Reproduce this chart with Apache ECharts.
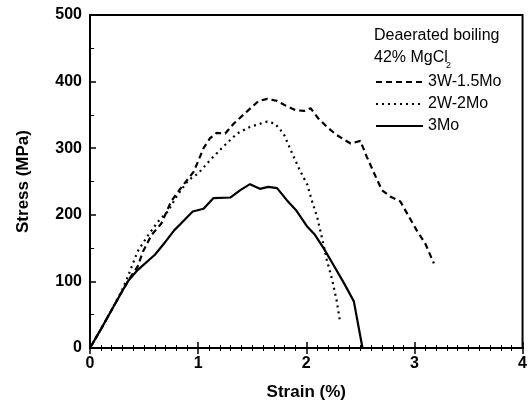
<!DOCTYPE html>
<html>
<head>
<meta charset="utf-8">
<script src="https://cdn.jsdelivr.net/npm/echarts@6/dist/echarts.min.js"></script>
<style>
  html, body { margin: 0; padding: 0; background: #fff; }
  #chart { width: 530px; height: 407px; }
</style>
</head>
<body>
<div id="chart"></div>
<script>
// 3W-1.5Mo (dashed)
var strainW15 = [0, 0.1, 0.2, 0.3, 0.38, 0.44, 0.49, 0.57, 0.66, 0.75, 0.83, 0.96, 1.05, 1.11, 1.17, 1.25, 1.33, 1.45, 1.56, 1.64, 1.73, 1.82, 1.90, 1.98, 2.04, 2.11, 2.19, 2.28, 2.41, 2.50, 2.56, 2.62, 2.70, 2.78, 2.87, 2.95, 3.02, 3.10, 3.18];
var stressW15 = [0, 28, 57, 86, 108, 122, 145, 170, 187, 220, 238, 265, 300, 315, 323, 322, 337, 355, 371, 374, 371, 363, 357, 356, 360, 345, 332, 320, 307, 311, 287, 265, 237, 227, 220, 197, 177, 157, 127];
// 2W-2Mo (dotted)
var strainW2 = [0, 0.1, 0.2, 0.3, 0.35, 0.44, 0.54, 0.63, 0.72, 0.81, 0.91, 1.0, 1.11, 1.23, 1.36, 1.48, 1.64, 1.71, 1.79, 1.87, 1.94, 2.01, 2.05, 2.10, 2.15, 2.19, 2.24, 2.28, 2.31];
var stressW2 = [0, 28, 57, 88, 107, 145, 170, 190, 205, 230, 252, 262, 282, 302, 322, 332, 340, 337, 322, 292, 267, 245, 222, 197, 162, 132, 102, 72, 42];
// 3Mo (solid)
var strainMo = [0, 0.1, 0.2, 0.3, 0.35, 0.44, 0.60, 0.70, 0.78, 0.83, 0.95, 1.05, 1.14, 1.30, 1.39, 1.48, 1.57, 1.65, 1.73, 1.82, 1.91, 2.01, 2.08, 2.16, 2.25, 2.35, 2.44, 2.52];
var stressMo = [0, 28, 57, 86, 100, 117, 140, 160, 177, 185, 205, 209, 225, 226, 237, 246, 239, 242, 240, 222, 206, 182, 170, 150, 125, 97, 70, 0];

var seriesNames = ['3W-1.5Mo', '2W-2Mo', '3Mo'];

function zip(xs, ys) {
    return xs.map(function(x, i) { return [x, ys[i]]; });
}

var font = 'Liberation Sans, Arial, sans-serif';
var chart = echarts.init(document.getElementById('chart'));

var option = {
    backgroundColor: '#fff',
    animation: false,
    grid: { left: 90, top: 15, width: 433, height: 333, show: true, borderColor: '#000', borderWidth: 2 },
    legend: {
        orient: 'vertical',
        left: 370,
        top: 69,
        itemWidth: 47,
        itemHeight: 14,
        itemGap: 6,
        itemStyle: { opacity: 0 },
        textStyle: { color: '#000', fontSize: 16, fontFamily: font },
        data: seriesNames
    },
    graphic: [
        { type: 'text', left: 374, top: 28, style: { text: 'Deaerated boiling', fontSize: 16, fontFamily: font, fill: '#000' } },
        { type: 'text', left: 374, top: 50, style: { text: '42% MgCl', fontSize: 16, fontFamily: font, fill: '#000' } },
        { type: 'text', left: 446, top: 61, style: { text: '2', fontSize: 9, fontFamily: font, fill: '#000' } }
    ],
    xAxis: [{
        type: 'value',
        min: 0, max: 4, interval: 1,
        name: 'Strain (%)',
        nameLocation: 'middle',
        nameGap: 36,
        nameTextStyle: { color: '#000', fontSize: 17, fontWeight: 'bold', fontFamily: font },
        axisLine: { lineStyle: { color: '#000', width: 2 } },
        axisTick: { inside: true, length: 6, lineStyle: { color: '#000', width: 1.5 } },
        minorTick: { show: true, splitNumber: 10, length: 3, lineStyle: { color: '#000' } },
        axisLabel: { color: '#000', fontSize: 16, fontWeight: 'bold', fontFamily: font, margin: 8 },
        splitLine: { show: false }
    }, {
        type: 'value',
        position: 'top',
        min: 0, max: 4, interval: 1,
        axisLine: { show: true, lineStyle: { color: '#000', width: 2 } },
        axisTick: { show: true, inside: true, length: 6, lineStyle: { color: '#000', width: 1.5 } },
        minorTick: { show: true, splitNumber: 10, length: 3, lineStyle: { color: '#000' } },
        axisLabel: { show: false },
        splitLine: { show: false }
    }],
    yAxis: [{
        type: 'value',
        min: 0, max: 500, interval: 100,
        name: 'Stress (MPa)',
        nameLocation: 'middle',
        nameGap: 58,
        nameTextStyle: { color: '#000', fontSize: 17, fontWeight: 'bold', fontFamily: font },
        axisLine: { show: true, lineStyle: { color: '#000', width: 2 } },
        axisTick: { show: true, inside: true, length: 6, lineStyle: { color: '#000', width: 1.5 } },
        minorTick: { show: true, splitNumber: 2, length: 4, lineStyle: { color: '#000' } },
        axisLabel: { color: '#000', fontSize: 16, fontWeight: 'bold', fontFamily: font, margin: 8 },
        splitLine: { show: false }
    }, {
        type: 'value',
        position: 'right',
        min: 0, max: 500, interval: 100,
        axisLine: { show: true, lineStyle: { color: '#000', width: 2 } },
        axisTick: { show: false },
        axisLabel: { show: false },
        splitLine: { show: false }
    }],
    series: [{
        name: seriesNames[0],
        type: 'line',
        symbol: 'none',
        data: zip(strainW15, stressW15),
        lineStyle: { color: '#000', width: 2.2, type: [6, 4] },
        itemStyle: { color: '#000' }
    }, {
        name: seriesNames[1],
        type: 'line',
        symbol: 'none',
        data: zip(strainW2, stressW2),
        lineStyle: { color: '#000', width: 2.2, type: [2, 4] },
        itemStyle: { color: '#000' }
    }, {
        name: seriesNames[2],
        type: 'line',
        symbol: 'none',
        xAxisIndex: 1,
        yAxisIndex: 1,
        data: zip(strainMo, stressMo),
        lineStyle: { color: '#000', width: 2.2 },
        itemStyle: { color: '#000' }
    }]
};

chart.setOption(option);
</script>
</body>
</html>
